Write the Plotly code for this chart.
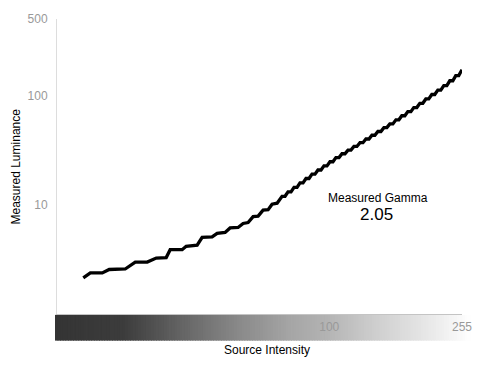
import math
import numpy as np
import plotly.graph_objects as go

# ---- data ----
source_intensity = [
    17.64, 18.54, 20.17, 21.18, 23.71, 25.45, 27.69, 29.51, 31.66, 32.56,
    35.43, 36.44, 39.38, 40.79, 43.77, 45.34, 47.97, 49.68, 52.57, 54.46,
    56.41, 58.44, 60.54, 62.70, 64.96, 66.80, 69.21,
    71.67, 73.20, 74.76, 76.35, 77.99, 79.66, 81.35, 83.09, 84.86, 86.67,
    88.53, 90.41, 92.35, 94.32, 96.33, 98.39, 100.5, 102.6, 104.8, 107.1,
    109.4, 111.7, 114.1, 116.5, 119.0, 121.5, 124.2, 126.8, 129.5, 132.3,
    135.1, 137.9, 140.9, 143.9, 147.0, 150.1, 153.3, 156.6, 160.0, 163.4,
    166.8, 170.4, 174.0, 177.8, 181.5, 185.4, 189.4, 193.4, 197.6, 201.7,
    206.1, 210.4, 215.0, 219.6, 224.3, 229.1, 234.0, 239.0, 244.0, 249.2,
    254.5, 255.0,
]
measured_luminance = [
    2.139, 2.375, 2.375, 2.554, 2.581, 2.987, 2.987, 3.246, 3.281, 3.875,
    3.880, 4.168, 4.256, 5.027, 5.080, 5.466, 5.580, 6.128, 6.193, 6.732,
    6.873, 7.788, 7.869, 8.917, 9.011, 10.10, 10.32,
    11.94, 11.94, 13.11, 13.11, 14.40, 14.40, 15.82, 15.82, 17.37, 17.37,
    19.04, 19.04, 20.78, 20.78, 22.66, 22.66, 24.71, 24.71, 26.96, 26.96,
    29.25, 29.25, 31.59, 31.59, 34.12, 34.12, 36.93, 36.93, 39.89, 39.89,
    43.18, 43.18, 46.72, 46.72, 50.70, 50.70, 54.88, 54.88, 59.77, 59.77,
    65.11, 65.11, 71.05, 71.05, 77.38, 77.38, 84.66, 84.66, 92.79, 92.79,
    101.9, 101.9, 111.7, 111.7, 122.7, 122.7, 136.1, 136.1, 151.7, 151.7,
    168.7, 171.9,
]
x_tick_values = [100, 255]
y_tick_values = [10, 100, 500]
gamma_title = "Measured Gamma"
gamma_value = "2.05"

FONT = "Liberation Sans, Arial, sans-serif"

fig = go.Figure(
    go.Scatter(
        x=source_intensity,
        y=measured_luminance,
        mode="lines",
        line=dict(color="black", width=3.3),
        hoverinfo="skip",
    )
)

# ---- decorative gradient bar below the plot ----
grad_pos = [-0.005, 0.163, 0.328, 0.452, 0.575, 0.674, 0.780, 0.904, 0.988, 1.020]
grad_gray = [52, 60, 106, 138, 165, 181, 205, 229, 247, 255]
n = 160
edges = np.linspace(grad_pos[0], grad_pos[-1], n + 1)
shapes = []
for i in range(n):
    mid = 0.5 * (edges[i] + edges[i + 1])
    g = int(round(np.interp(mid, grad_pos, grad_gray)))
    shapes.append(
        dict(
            type="rect", xref="paper", yref="paper",
            x0=edges[i], x1=edges[i + 1] + 0.002,
            y0=-0.0903, y1=-0.003,
            fillcolor=f"rgb({g},{g},{g})", line=dict(width=0), layer="below",
        )
    )

fig.update_layout(
    width=484,
    height=367,
    margin=dict(l=57, r=22, t=15, b=53),
    plot_bgcolor="white",
    paper_bgcolor="white",
    showlegend=False,
    hovermode=False,
    font=dict(family=FONT, size=12, color="black"),
    shapes=shapes,
    xaxis=dict(
        type="log",
        range=[1.166, math.log10(255)],
        tickvals=x_tick_values,
        ticktext=[str(v) for v in x_tick_values],
        ticks="",
        showgrid=False,
        zeroline=False,
        showline=True,
        linecolor="#c4c4c4",
        linewidth=1,
        tickfont=dict(family=FONT, size=12, color="#999999"),
        ticklabelstandoff=2,
    ),
    yaxis=dict(
        type="log",
        range=[0, math.log10(500)],
        tickvals=y_tick_values,
        ticktext=[str(v) for v in y_tick_values],
        ticks="",
        showgrid=False,
        zeroline=False,
        showline=True,
        linecolor="#dddddd",
        linewidth=1,
        tickfont=dict(family=FONT, size=12, color="#999999"),
        ticklabelstandoff=6,
    ),
    annotations=[
        dict(text="Measured Luminance", xref="paper", yref="paper",
             x=-0.1037, y=0.5, xanchor="center", yanchor="middle",
             textangle=-90, showarrow=False,
             font=dict(family=FONT, size=12, color="black")),
        dict(text="Source Intensity", xref="paper", yref="paper",
             x=0.5185, y=-0.1237, xanchor="center", yanchor="middle",
             showarrow=False, font=dict(family=FONT, size=12, color="black")),
        dict(text=gamma_title, xref="paper", yref="paper",
             x=0.7914, y=0.3923, xanchor="center", yanchor="middle",
             showarrow=False, font=dict(family=FONT, size=12, color="black")),
        dict(text=gamma_value, xref="paper", yref="paper",
             x=0.7894, y=0.3388, xanchor="center", yanchor="middle",
             showarrow=False, font=dict(family=FONT, size=17, color="black")),
    ],
)

fig.write_html(
    "out.html",
    config={"displayModeBar": False, "staticPlot": True},
    post_script="document.body.style.margin='0';document.body.style.overflow='hidden';",
)
